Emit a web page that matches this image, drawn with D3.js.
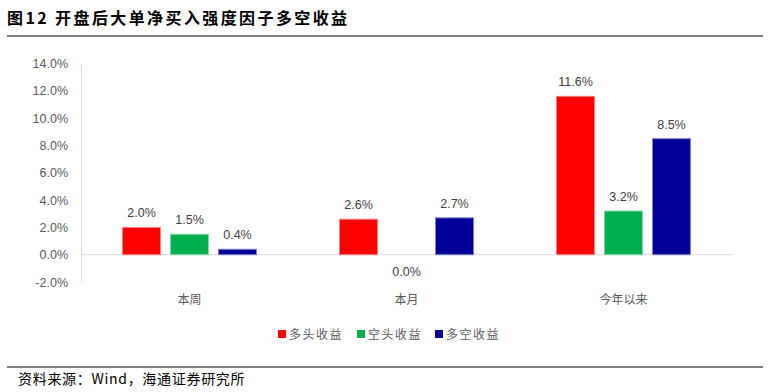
<!DOCTYPE html>
<html><head><meta charset="utf-8">
<script src="https://cdn.jsdelivr.net/npm/d3@7/dist/d3.min.js"></script>
<style>
body{margin:0;background:#fff;}
svg{display:block;}
</style></head>
<body><svg id="c" width="770" height="392"></svg>
<script>
const categories = ["本周", "本月", "今年以来"];
const seriesNames = ["多头收益", "空头收益", "多空收益"];
const longVals = [2.0, 2.6, 11.6];
const shortVals = [1.5, 0.0, 3.2];
const lsVals = [0.4, 2.7, 8.5];
const yTicks = [-2, 0, 2, 4, 6, 8, 10, 12, 14];
const colors = ["#FF0000", "#00B050", "#000099"];
const strokes = ["#FF8080", "#80D8A8", "#8080CC"];
const title = "图12 开盘后大单净买入强度因子多空收益";
const source = "资料来源：Wind，海通证券研究所";

const svg = d3.select("#c");
const cjk = "'Noto Sans CJK SC','Noto Sans',sans-serif";
const lat = "'Liberation Sans',Arial,sans-serif";
const pct = v => v.toFixed(1) + "%";

// header
svg.append("text").attr("x", 7).attr("y", 24).text(title)
  .attr("font-family", cjk).attr("font-weight", "bold").attr("font-size", 16)
  .attr("letter-spacing", 2.4).attr("fill", "#000");
svg.append("line").attr("x1", 7).attr("x2", 763).attr("y1", 36).attr("y2", 36)
  .attr("stroke", "#000").attr("stroke-width", 1.2);
svg.append("line").attr("x1", 7).attr("x2", 763).attr("y1", 367).attr("y2", 367)
  .attr("stroke", "#000").attr("stroke-width", 1.2);
svg.append("text").attr("x", 18).attr("y", 384).text(source)
  .attr("font-family", cjk).attr("font-size", 14).attr("letter-spacing", 0.7).attr("fill", "#000");

const y = d3.scaleLinear().domain([-2, 14]).range([282, 63.6]);
const x0 = d3.scaleBand().domain(categories).range([81, 732]);
const groupW = 134;
const x1 = d3.scaleBand().domain(seriesNames).range([0, groupW]).paddingInner(0.2083);

const data = categories.map((c, i) => ({cat: c, vals: [longVals[i], shortVals[i], lsVals[i]]}));

// y axis
const yAxis = d3.axisLeft(y).tickValues(yTicks).tickSize(0).tickPadding(13).tickFormat(pct);
const ga = svg.append("g").attr("transform", "translate(81,0)").call(yAxis);
ga.select(".domain").attr("stroke", "#D9D9D9").attr("stroke-width", 1);
ga.selectAll("text").attr("font-family", lat).attr("font-size", 12.5).attr("fill", "#595959");

// baseline
svg.append("line").attr("x1", 81).attr("x2", 732).attr("y1", y(0)).attr("y2", y(0))
  .attr("stroke", "#D9D9D9").attr("stroke-width", 1);

// bars
const g = svg.append("g");
data.forEach(d => {
  const gx = x0(d.cat) + (x0.bandwidth() - groupW) / 2;
  d.vals.forEach((v, j) => {
    const bx = gx + x1(seriesNames[j]);
    if (v !== 0) {
      g.append("rect").attr("x", bx).attr("width", x1.bandwidth())
        .attr("y", y(Math.max(v, 0))).attr("height", Math.abs(y(v) - y(0)))
        .attr("fill", colors[j]).attr("stroke", strokes[j]).attr("stroke-width", 1);
    }
    const ly = v === 0 ? y(0) + 21 : y(v) - 10;
    g.append("text").attr("x", bx + x1.bandwidth() / 2).attr("y", ly)
      .attr("text-anchor", "middle").text(pct(v))
      .attr("font-family", lat).attr("font-size", 12.5).attr("fill", "#404040");
  });
  svg.append("text").attr("x", x0(d.cat) + x0.bandwidth() / 2).attr("y", 304)
    .attr("text-anchor", "middle").text(d.cat)
    .attr("font-family", cjk).attr("font-size", 12).attr("fill", "#595959");
});

// legend
const legX = [278, 357, 435];
seriesNames.forEach((s, j) => {
  svg.append("rect").attr("x", legX[j]).attr("y", 330).attr("width", 8).attr("height", 8)
    .attr("fill", colors[j]);
  svg.append("text").attr("x", legX[j] + 11).attr("y", 339).text(s)
    .attr("font-family", cjk).attr("font-size", 12).attr("letter-spacing", 1.5).attr("fill", "#595959");
});
</script></body></html>
